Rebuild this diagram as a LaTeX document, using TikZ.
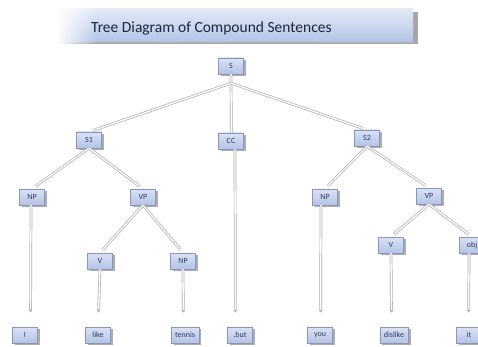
\documentclass[tikz,border=0pt]{standalone}
\usepackage{fontspec}
\setmainfont{Carlito}
\usetikzlibrary{shadows,arrows.meta,fadings}
\definecolor{boxtop}{HTML}{DAE3F5}
\definecolor{boxbot}{HTML}{B3C3E5}
\definecolor{boxline}{HTML}{8896BE}
\definecolor{boxtext}{HTML}{2E3A66}
\definecolor{linkgray}{HTML}{AEAEAE}
\definecolor{bantop}{HTML}{E3EAF7}
\definecolor{banbot}{HTML}{B2C3E5}
\definecolor{titletext}{HTML}{1E2638}

\tikzset{
  tag/.style={draw=boxline, line width=0.4pt, top color=boxtop, bottom color=boxbot,
    text=boxtext, font=\fontsize{8}{9}\selectfont,
    minimum width=25pt, minimum height=16pt, inner xsep=4pt, inner ysep=2pt,
    drop shadow={shadow xshift=2.5pt, shadow yshift=-2pt, fill=black!40, opacity=0.8}},
  link/.style={draw=linkgray, line width=0.7pt, double=white, double distance=1.3pt},
  branch/.style={link, shorten >=4pt},
  drop/.style={link, shorten >=14pt, -{Latex[length=3pt,width=4pt]}}
}

\begin{document}
\begin{tikzpicture}[x=1pt,y=-1pt]
  \useasboundingbox (0,0) rectangle (478,347);
  \clip (0,0) rectangle (478,347);
  \fill[white] (0,0) rectangle (478,347);

  % title banner
  \fill[black!35] (62,12) rectangle (418,44);
  \shade[top color=bantop, bottom color=banbot] (58,9) rectangle (413,42);
  \draw[black!30, line width=0.6pt] (58,42) -- (413,42);
  \fill[white, path fading=east] (56,8) rectangle (96,45);
  \node[anchor=west, text=titletext, font=\fontsize{15.5}{18}\selectfont, inner sep=0pt]
    (title) at (91,28) {Tree Diagram of Compound Sentences};

  % phrase nodes
  \node[tag] (S)   at (231,66)  {S};
  \node[tag] (S1)  at (89,140)  {S1};
  \node[tag] (CC)  at (231,141) {CC};
  \node[tag] (S2)  at (367,138) {S2};
  \node[tag] (NPa) at (32,197)  {NP};
  \node[tag] (VPa) at (143,197) {VP};
  \node[tag] (NPb) at (325,197) {NP};
  \node[tag] (VPb) at (429,196) {VP};
  \node[tag] (Va)  at (100,261) {V};
  \node[tag] (NPc) at (183,261) {NP};
  \node[tag] (Vb)  at (391,245) {V};
  \node[tag] (obj) at (472,245) {obj};

  % words
  \node[tag] (w1) at (25,335)  {I};
  \node[tag] (w2) at (98,335)  {like};
  \node[tag] (w3) at (185,335) {tennis};
  \node[tag] (w4) at (240,335) {,but};
  \node[tag] (w5) at (320,335) {you};
  \node[tag] (w6) at (394,335) {dislike};
  \node[tag] (w7) at (469,335) {it};

  % branches from the root
  \coordinate (Sj) at ([yshift=-9pt]S.south);
  \draw[link] (S.south) -- ([xshift=0.3pt]CC.north);
  \draw[branch] (Sj) -- (S1.north);
  \draw[branch] (Sj) -- (S2.north);

  % inner branches
  \draw[branch] (S1.south) -- (NPa.north);
  \draw[branch] (S1.south) -- (VPa.north);
  \draw[branch] (VPa.south) -- (Va.north);
  \draw[branch] (VPa.south) -- (NPc.north);
  \draw[branch] (S2.south) -- (NPb.north);
  \draw[branch] (S2.south) -- (VPb.north);
  \draw[branch] (VPb.south) -- (Vb.north);
  \draw[branch] (VPb.south) -- (obj.north);

  % arrows down to the words (ends nudged so the shafts keep a width)
  \draw[drop] ([xshift=-1pt]NPa.south) -- ([xshift=-1.5pt]NPa.south |- w1.north);
  \draw[drop] (Va.south)  -- (w2.north);
  \draw[drop] (NPc.south) -- ([xshift=0.4pt]NPc.south |- w3.north);
  \draw[drop] ([xshift=4pt]CC.south) -- ([xshift=4.4pt]CC.south |- w4.north);
  \draw[drop] ([xshift=-4pt]NPb.south) -- ([xshift=-4.4pt]NPb.south |- w5.north);
  \draw[drop] (Vb.south)  -- ([xshift=0.6pt]Vb.south |- w6.north);
  \draw[drop] ([xshift=-3pt]obj.south) -- ([xshift=-3.4pt]obj.south |- w7.north);
\end{tikzpicture}
\end{document}
